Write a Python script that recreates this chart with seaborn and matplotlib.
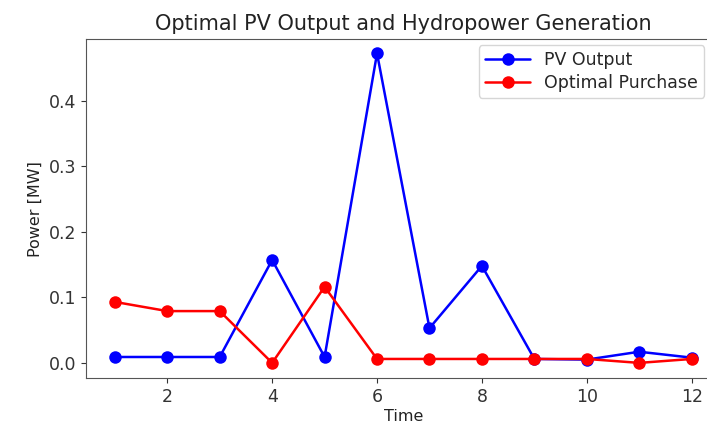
import matplotlib
matplotlib.use("Agg")
import matplotlib.pyplot as plt
import seaborn as sns
import pandas as pd

time = [1, 2, 3, 4, 5, 6, 7, 8, 9, 10, 11, 12]
pv_output = [0.009, 0.009, 0.009, 0.157, 0.009, 0.472, 0.053, 0.148, 0.006, 0.005, 0.017, 0.008]
optimal_purchase = [0.093, 0.079, 0.079, 0.0, 0.116, 0.006, 0.006, 0.006, 0.006, 0.006, 0.0, 0.006]
series_names = ["PV Output", "Optimal Purchase"]
series_colors = ["blue", "red"]

df = pd.DataFrame({
    "Time": time * 2,
    "Power": pv_output + optimal_purchase,
    "Series": [series_names[0]] * len(time) + [series_names[1]] * len(time),
})

sns.set_style("ticks")
plt.rcParams["font.family"] = ["DejaVu Sans"]

fig = plt.figure(figsize=(7.07, 4.26), dpi=100)
ax = fig.add_axes([86 / 707, (426 - 378.3) / 426, (720.5 - 86) / 707, (378.3 - 39.3) / 426])

sns.lineplot(data=df, x="Time", y="Power", hue="Series", palette=dict(zip(series_names, series_colors)),
             marker="o", markersize=9, markeredgewidth=0, linewidth=1.8, ax=ax)

ax.set_title("Optimal PV Output and Hydropower Generation", fontsize=15, color="#222222", pad=7)
ax.set_xlabel("Time", fontsize=11.5, color="#222222", labelpad=2)
ax.set_ylabel("Power [MW]", fontsize=11.5, color="#222222")
ax.tick_params(labelsize=12.5, colors="#333333")
ax.set_xticks([2, 4, 6, 8, 10, 12])
ax.set_yticks([0.0, 0.1, 0.2, 0.3, 0.4])
ax.set_xlim(0.45, 12.55)
ax.set_ylim(-0.0235, 0.4935)
for s in ax.spines.values():
    s.set_color("#555555")

leg = ax.legend(loc="upper right", bbox_to_anchor=((704 - 86) / (720.5 - 86), 1 - 6 / 339),
                borderaxespad=0, fontsize=12.5, frameon=True, labelspacing=0.25,
                handlelength=2.6, borderpad=0.35)
leg.get_frame().set_edgecolor("#cccccc")

fig.savefig("out.png", dpi=100)
